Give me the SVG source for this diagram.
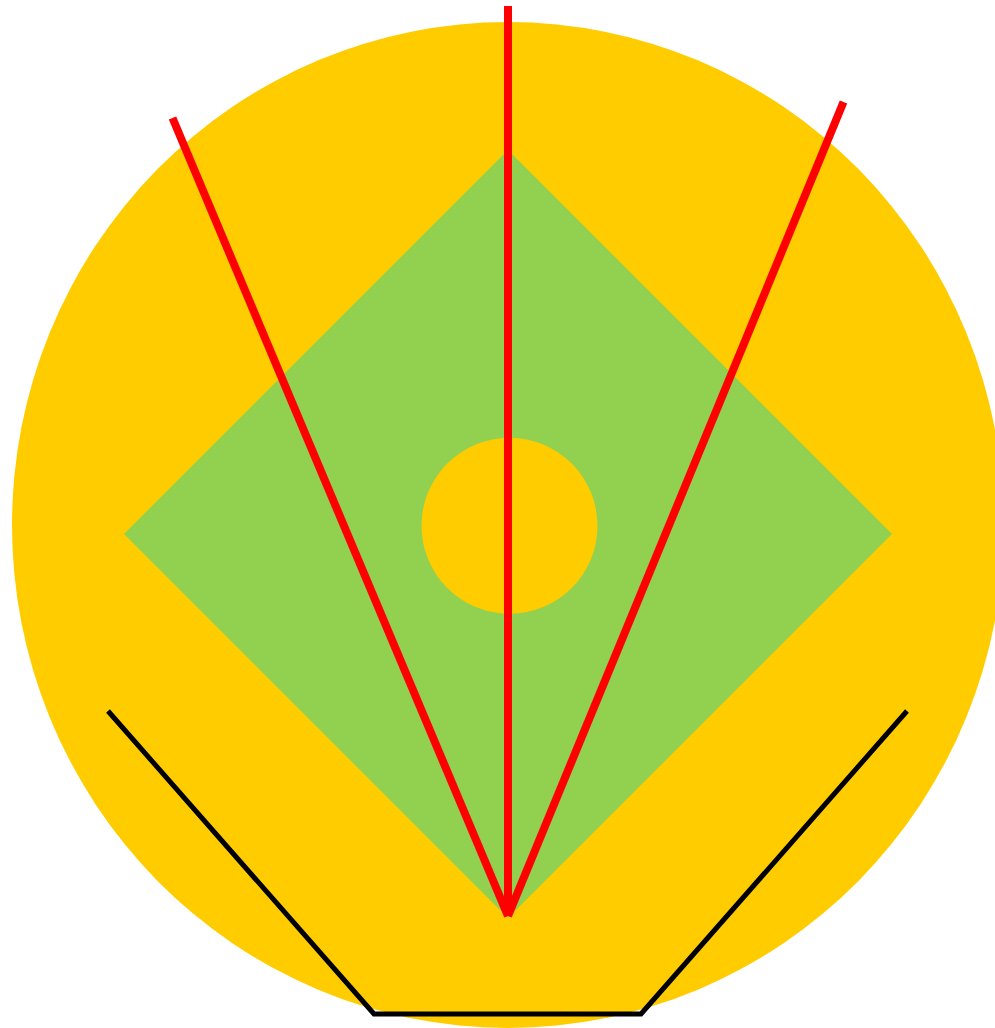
<svg xmlns="http://www.w3.org/2000/svg" width="995" height="1028" viewBox="0 0 995 1028">
<style>
.y{fill:#FFCC00}
.g{fill:#92D050}
.r{stroke:#FF0000;stroke-width:8;fill:none}
.k{stroke:#000000;stroke-width:5;fill:none}
</style>
<rect width="995" height="1028" fill="#FFFFFF"/>
<ellipse class="y" cx="508" cy="525" rx="496" ry="503"/>
<polygon class="g" points="508,150 892,534 508,918 124,534"/>
<circle class="y" cx="509.5" cy="525.8" r="88"/>
<g id="lines">
<line class="r" x1="508" y1="6" x2="508" y2="916"/>
<line class="r" x1="172.5" y1="118" x2="508" y2="916"/>
<line class="r" x1="843.5" y1="102" x2="508" y2="916"/>
<polyline class="k" points="108,711 374,1014 641,1014 907,711"/>
</g>
</svg>
